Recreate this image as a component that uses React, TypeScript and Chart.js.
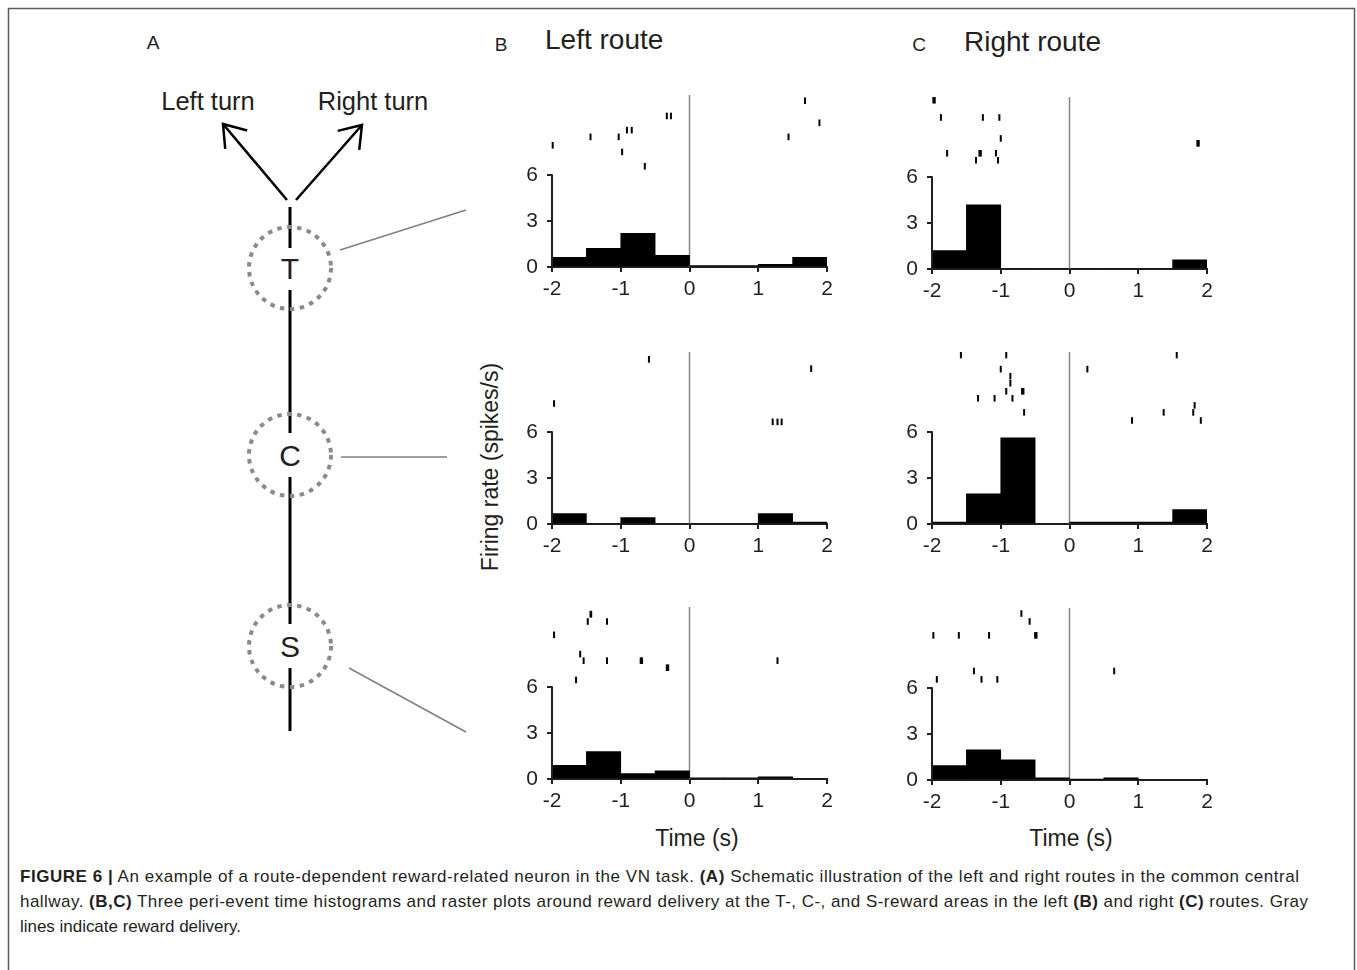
import React, { useEffect, useRef } from 'react';
import { Chart, registerables } from 'chart.js';

Chart.register(...registerables);

// ---------------- data ----------------
const X_TICKS = [-2, -1, 0, 1, 2];
const Y_TICKS = [0, 3, 6];
const Y_MAX = 11.25;
const BIN_CENTERS = [-1.75, -1.25, -0.75, -0.25, 0.25, 0.75, 1.25, 1.75];

// firing rates (spikes/s) per 0.5 s bin
const RATE_LEFT_T = [0.63, 1.22, 2.2, 0.76, 0.1, 0.1, 0.18, 0.63];
const RATE_RIGHT_T = [1.2, 4.2, 0, 0, 0, 0, 0, 0.6];
const RATE_LEFT_C = [0.68, 0, 0.42, 0, 0, 0, 0.68, 0.13];
const RATE_RIGHT_C = [0.13, 1.98, 5.63, 0, 0.13, 0.13, 0.13, 0.95];
const RATE_LEFT_S = [0.89, 1.8, 0.35, 0.54, 0.07, 0.07, 0.15, 0];
const RATE_RIGHT_S = [0.95, 1.97, 1.32, 0.15, 0.03, 0.15, 0, 0];

// raster spikes: [time (s), row position on the y scale]
type Pt = [number, number];
const RASTER_LEFT_T: Pt[] = [
  [-1.99, 7.96], [-1.44, 8.51], [-1.03, 8.51], [-0.98, 7.53], [-0.91, 8.95], [-0.84, 8.95],
  [-0.65, 6.59], [-0.33, 9.88], [-0.27, 9.88], [1.68, 10.87], [1.89, 9.43], [1.44, 8.51],
];
const RASTER_RIGHT_T: Pt[] = [
  [-1.98, 11.04], [-1.96, 11.04], [-1.87, 9.91], [-1.26, 9.91], [-1.02, 9.91], [-1.0, 8.54],
  [-1.78, 7.57], [-1.31, 7.57], [-1.29, 7.57], [-1.07, 7.57], [-1.36, 7.11], [-1.04, 7.11],
  [1.86, 8.22], [1.88, 8.22],
];
const RASTER_LEFT_C: Pt[] = [
  [-0.59, 10.77], [-1.97, 7.88], [1.77, 10.16], [1.21, 6.68], [1.28, 6.68], [1.34, 6.68],
];
const RASTER_RIGHT_C: Pt[] = [
  [-1.58, 11.05], [-0.92, 11.05], [1.56, 11.05], [-1.0, 10.13], [0.26, 10.13], [-0.86, 9.67],
  [-0.86, 9.21], [-0.92, 8.68], [-0.69, 8.68], [-0.67, 8.68], [-1.33, 8.22], [-1.09, 8.22],
  [-0.83, 8.22], [1.82, 7.76], [-0.66, 7.3], [1.37, 7.3], [1.8, 7.3], [0.91, 6.77], [1.91, 6.77],
];
const RASTER_LEFT_S: Pt[] = [
  [-1.44, 10.78], [-1.43, 10.78], [-1.48, 10.3], [-1.2, 10.3], [-1.97, 9.43], [-1.59, 8.17],
  [-1.54, 7.74], [-1.2, 7.74], [-0.71, 7.74], [-0.69, 7.74], [-0.33, 7.28], [-0.31, 7.28],
  [-1.65, 6.48], [1.28, 7.74],
];
const RASTER_RIGHT_S: Pt[] = [
  [-0.7, 10.89], [-0.58, 10.37], [-1.98, 9.46], [-1.61, 9.46], [-1.17, 9.46], [-0.5, 9.46],
  [-0.48, 9.46], [-1.39, 7.13], [0.65, 7.13], [-1.93, 6.58], [-1.28, 6.58], [-1.05, 6.58],
];

// ---------------- styling / layout ----------------
const FONT = '"Liberation Sans", Arial, Helvetica, sans-serif';
const INK = '#231f20';
const Y_AXIS_W = 50;
const X_AXIS_H = 40;
const PLOT_W = 275;
const PLOT_H = 172;
const PAD_R = 14;
const CW = Y_AXIS_W + PLOT_W + PAD_R;
const CH = PLOT_H + X_AXIS_H;

const PANELS = [
  { left: 502, top: 95, rates: RATE_LEFT_T, raster: RASTER_LEFT_T },
  { left: 882, top: 97, rates: RATE_RIGHT_T, raster: RASTER_RIGHT_T },
  { left: 502, top: 352, rates: RATE_LEFT_C, raster: RASTER_LEFT_C },
  { left: 882, top: 352, rates: RATE_RIGHT_C, raster: RASTER_RIGHT_C },
  { left: 502, top: 607, rates: RATE_LEFT_S, raster: RASTER_LEFT_S },
  { left: 882, top: 608, rates: RATE_RIGHT_S, raster: RASTER_RIGHT_S },
];

const yAxisLine = {
  id: 'yAxisLine',
  afterDatasetsDraw(chart: any) {
    const { ctx, chartArea, scales } = chart;
    const y = scales.y;
    ctx.save();
    ctx.strokeStyle = INK;
    ctx.lineWidth = 2;
    ctx.beginPath();
    ctx.moveTo(chartArea.left, y.getPixelForValue(0) + 1);
    ctx.lineTo(chartArea.left, y.getPixelForValue(6) - 1);
    ctx.stroke();
    ctx.restore();
  },
};

function Panel({ left, top, rates, raster }: { left: number; top: number; rates: number[]; raster: Pt[] }) {
  const ref = useRef<HTMLCanvasElement>(null);
  useEffect(() => {
    const chart = new Chart(ref.current as HTMLCanvasElement, {
      type: 'bar',
      data: {
        datasets: [
          {
            type: 'scatter',
            data: raster.map(([x, y]) => ({ x, y })),
            pointStyle: 'line',
            rotation: 90,
            radius: 3.3,
            borderWidth: 2,
            borderColor: '#000',
            backgroundColor: '#000',
            order: 1,
            clip: false,
          } as any,
          {
            type: 'bar',
            data: BIN_CENTERS.map((x, i) => ({ x, y: rates[i] })),
            backgroundColor: '#000',
            borderWidth: 0,
            barPercentage: 1,
            categoryPercentage: 1,
            order: 2,
          } as any,
          {
            type: 'line',
            data: [{ x: 0, y: 0 }, { x: 0, y: Y_MAX }],
            borderColor: '#858585',
            borderWidth: 1.5,
            pointRadius: 0,
            fill: false,
            order: 3,
            clip: false,
          } as any,
        ],
      },
      options: {
        responsive: false,
        animation: false,
        devicePixelRatio: 1,
        events: [],
        layout: { autoPadding: false, padding: { left: 0, right: PAD_R, top: 0, bottom: 0 } },
        plugins: { legend: { display: false }, tooltip: { enabled: false } },
        scales: {
          x: {
            type: 'linear',
            min: -2,
            max: 2,
            offset: false,
            afterBuildTicks: (s: any) => {
              s.ticks = X_TICKS.map((v) => ({ value: v }));
            },
            afterFit: (s: any) => {
              s.height = X_AXIS_H;
              s.paddingLeft = 0;
              s.paddingRight = 0;
            },
            ticks: { font: { family: FONT, size: 21 }, color: INK, padding: 5, maxRotation: 0, autoSkip: false },
            grid: { display: true, offset: false, drawOnChartArea: false, drawTicks: true, tickLength: 5, color: INK, lineWidth: 2 },
            border: { display: true, color: INK, width: 2 },
          },
          y: {
            type: 'linear',
            min: 0,
            max: Y_MAX,
            afterBuildTicks: (s: any) => {
              s.ticks = Y_TICKS.map((v) => ({ value: v }));
            },
            afterFit: (s: any) => {
              s.width = Y_AXIS_W;
              s.paddingTop = 0;
              s.paddingBottom = 0;
            },
            ticks: { font: { family: FONT, size: 21 }, color: INK, padding: 9 },
            grid: { display: true, drawOnChartArea: false, drawTicks: true, tickLength: 5, color: INK, lineWidth: 2 },
            border: { display: false },
          },
        },
      } as any,
      plugins: [yAxisLine],
    });
    return () => chart.destroy();
  }, []);
  return (
    <canvas
      ref={ref}
      width={CW}
      height={CH}
      style={{ position: 'absolute', left, top, width: CW, height: CH }}
    />
  );
}

function arrow(x1: number, y1: number, x2: number, y2: number) {
  const a = Math.atan2(y2 - y1, x2 - x1);
  const L = 25;
  const s = (35 * Math.PI) / 180;
  const p1 = [x2 - L * Math.cos(a - s), y2 - L * Math.sin(a - s)];
  const p2 = [x2 - L * Math.cos(a + s), y2 - L * Math.sin(a + s)];
  return `M${x1},${y1} L${x2},${y2} M${p1[0]},${p1[1]} L${x2},${y2} L${p2[0]},${p2[1]}`;
}

function Schematic() {
  const cx = 290;
  const nodes = [
    { y: 268, label: 'T' },
    { y: 455, label: 'C' },
    { y: 646, label: 'S' },
  ];
  return (
    <g>
      <path d={arrow(287, 200, 223, 124)} stroke="#000" strokeWidth={2.5} fill="none" />
      <path d={arrow(296, 200, 362, 125)} stroke="#000" strokeWidth={2.5} fill="none" />
      <path
        d={`M${cx},207 V248 M${cx},290 V433 M${cx},477 V624 M${cx},668 V731`}
        stroke="#000"
        strokeWidth={3}
        fill="none"
      />
      {nodes.map((n) => (
        <g key={n.label}>
          <circle cx={cx} cy={n.y} r={41} fill="none" stroke="#8a8a8a" strokeWidth={4} strokeDasharray="4.5 5.5" />
          <text x={cx} y={n.y + 11} textAnchor="middle" fontSize={30} fill={INK}>
            {n.label}
          </text>
        </g>
      ))}
      <line x1={340} y1={250} x2={466} y2={210} stroke="#7f7f7f" strokeWidth={1.5} />
      <line x1={341} y1={457} x2={447} y2={457} stroke="#7f7f7f" strokeWidth={1.5} />
      <line x1={349} y1={668} x2={466} y2={732} stroke="#7f7f7f" strokeWidth={1.5} />
    </g>
  );
}

export default function App() {
  useEffect(() => {
    document.body.style.overflow = 'hidden';
  }, []);
  return (
    <div style={{ position: 'absolute', left: 0, top: 0, width: 1357, height: 970, overflow: 'hidden', background: '#fff' }}>
      <svg
        width={1357}
        height={970}
        style={{ position: 'absolute', left: 0, top: 0 }}
        fontFamily={FONT}
      >
        <path d="M8.5,980 V8.5 H1354.5 V980" stroke="#5a5a5a" strokeWidth={1.5} fill="none" />
        <text x={153} y={49} textAnchor="middle" fontSize={19} fill={INK}>A</text>
        <text x={501} y={51} textAnchor="middle" fontSize={19} fill={INK}>B</text>
        <text x={545} y={49} fontSize={28} fill={INK}>Left route</text>
        <text x={919} y={51} textAnchor="middle" fontSize={19} fill={INK}>C</text>
        <text x={964} y={51} fontSize={28} fill={INK}>Right route</text>
        <text x={208} y={110} textAnchor="middle" fontSize={25.5} fill={INK}>Left turn</text>
        <text x={373} y={110} textAnchor="middle" fontSize={25.5} fill={INK}>Right turn</text>
        <Schematic />
        <text
          transform="translate(498,467) rotate(-90)"
          textAnchor="middle"
          fontSize={23}
          fill={INK}
        >
          Firing rate (spikes/s)
        </text>
        <text x={697} y={846} textAnchor="middle" fontSize={23} fill={INK}>Time (s)</text>
        <text x={1071} y={846} textAnchor="middle" fontSize={23} fill={INK}>Time (s)</text>
        <g fontSize={17} fill={INK}>
          <text x={20} y={882} textLength={1279} lengthAdjust="spacing">
            <tspan fontWeight="bold">FIGURE 6 |</tspan>
            <tspan> An example of a route-dependent reward-related neuron in the VN task. </tspan>
            <tspan fontWeight="bold">(A)</tspan>
            <tspan> Schematic illustration of the left and right routes in the common central</tspan>
          </text>
          <text x={20} y={907} textLength={1288} lengthAdjust="spacing">
            <tspan>hallway. </tspan>
            <tspan fontWeight="bold">(B,C)</tspan>
            <tspan> Three peri-event time histograms and raster plots around reward delivery at the T-, C-, and S-reward areas in the left </tspan>
            <tspan fontWeight="bold">(B)</tspan>
            <tspan> and right </tspan>
            <tspan fontWeight="bold">(C)</tspan>
            <tspan> routes. Gray</tspan>
          </text>
          <text x={20} y={932} textLength={221} lengthAdjust="spacing">lines indicate reward delivery.</text>
        </g>
      </svg>
      {PANELS.map((p, i) => (
        <Panel key={i} left={p.left} top={p.top} rates={p.rates} raster={p.raster} />
      ))}
    </div>
  );
}
